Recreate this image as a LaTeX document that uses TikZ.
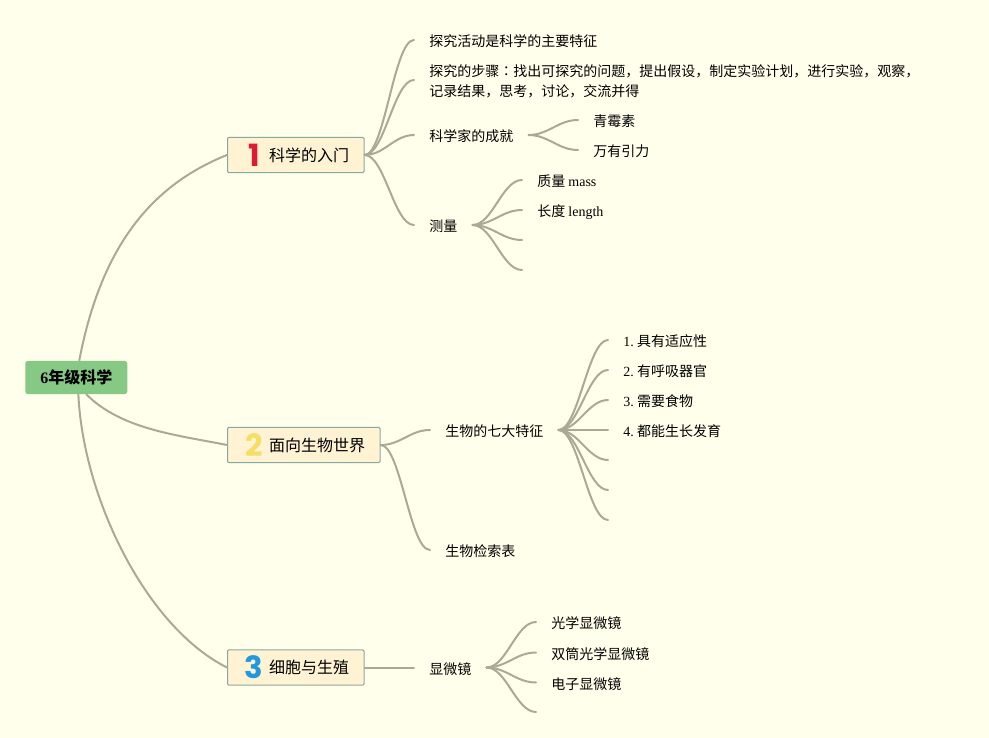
\documentclass[tikz,border=0pt]{standalone}
\usepackage{fontspec}
\setmainfont{Liberation Serif}
\newfontfamily\cjk{Noto Sans CJK SC}
\newfontfamily\cjktc{Noto Sans CJK TC}
\newfontfamily\numfont{Poppins}
\newcommand{\lat}[1]{{\rmfamily #1}}
\definecolor{bgpaper}{HTML}{FFFFEC}
\definecolor{rootgreen}{HTML}{85C985}
\definecolor{topicfill}{HTML}{FFF3D4}
\definecolor{topicline}{HTML}{86AB9C}
\definecolor{branchline}{HTML}{AAAA94}
\definecolor{numred}{HTML}{DC1C32}
\definecolor{numyellow}{HTML}{F5DE64}
\definecolor{numblue}{HTML}{2299DD}
\tikzset{
	rootnode/.style={anchor=west,fill=rootgreen,rounded corners=2pt,minimum width=76.5pt,minimum height=25pt,inner sep=0pt,text height=11pt,text depth=1.5pt,font=\cjk\bfseries\fontsize{12}{14}\selectfont},
	topicnode/.style={anchor=west,draw=topicline,line width=0.8pt,fill=topicfill,rounded corners=1pt,minimum height=26.5pt,inner xsep=11.25pt,inner ysep=0pt,font=\cjk\fontsize{12}{14}\selectfont},
	numnode/.style={inner sep=0pt,font=\numfont\bfseries\fontsize{23}{23}\selectfont},
	leafnode/.style={anchor=west,inner xsep=11.25pt,inner ysep=0pt,align=left,text height=11pt,text depth=1.5pt,font=\cjk\fontsize{10.5}{15}\selectfont},
	branch/.style={draw=branchline,line width=1.5pt,line cap=round},
}
\begin{document}
\begin{tikzpicture}[x=0.75pt,y=0.75pt,yscale=-1,xscale=1]
	\useasboundingbox [fill=bgpaper] (0,0) rectangle (989,738);
	
	% root and main topics
	\node [rootnode] (root) at (25,377.5) {\lat{6}年级科学};
	\node [topicnode] (topicA) at (227,155) {\hspace*{19.9pt}科学的入门};
	\node [topicnode] (topicB) at (227,445) {\hspace*{19.9pt}面向生物世界};
	\node [topicnode] (topicC) at (227,667.5) {\hspace*{19.9pt}细胞与生殖};
	\node [numnode,text=numred] (numA) at ([xshift=20.4pt]topicA.west) {1};
	\node [numnode,text=numyellow] (numB) at ([xshift=20.4pt]topicB.west) {2};
	\node [numnode,text=numblue] (numC) at ([xshift=20.4pt]topicC.west) {3};
	
	% first topic
	\node [leafnode] (inquiry) at (414,40) {探究活动是科学的主要特征};
	\node [leafnode,text height=25.9pt] (steps) at (414,80) {探究的步骤{\cjktc ：}找出可探究的问题，提出假设，制定实验计划，进行实验，观察，\\记录结果，思考，讨论，交流并得};
	\node [leafnode] (feats) at (414,135) {科学家的成就};
	\node [leafnode] (measure) at (414,225) {测量};
	\node [leafnode] (penicillin) at (578,120) {青霉素};
	\node [leafnode] (gravity) at (578,150) {万有引力};
	\node [leafnode] (mass) at (522,180) {质量 \lat{mass}};
	\node [leafnode] (length) at (522,210) {长度 \lat{length}};
	\coordinate (blankA) at (522,240);
	\coordinate (blankB) at (522,270);
	
	% second topic
	\node [leafnode] (seven) at (430,430) {生物的七大特征};
	\node [leafnode] (keytable) at (430,550) {生物检索表};
	\node [leafnode] (lifeA) at (608,340) {\lat{1. }\hspace{-1pt}具有适应性};
	\node [leafnode] (lifeB) at (608,370) {\lat{2. }\hspace{-1pt}有呼吸器官};
	\node [leafnode] (lifeC) at (608,400) {\lat{3. }\hspace{-1pt}需要食物};
	\node [leafnode] (lifeD) at (608,430) {\lat{4. }\hspace{-1pt}都能生长发育};
	\coordinate (lifeE) at (608,460);
	\coordinate (lifeF) at (608,490);
	\coordinate (lifeG) at (608,520);
	
	% third topic
	\node [leafnode,text height=12.5pt] (scope) at (414,667.5) {显微镜};
	\node [leafnode] (scopeA) at (536,622) {光学显微镜};
	\node [leafnode,text height=12pt] (scopeB) at (536,652.5) {双筒光学显微镜};
	\node [leafnode,text height=12pt] (scopeC) at (536,682.5) {电子显微镜};
	\coordinate (scopeD) at (536,712);
	
	% connectors
	\draw [branch] (root.80) .. controls +(22,-115) and +(-75,30) .. (topicA.west);
	\draw [branch] (root.-59) .. controls +(35,35) and +(-50,-10) .. (topicB.west);
	\draw [branch] (root.-83) .. controls +(5,105) and +(-80,-40) .. (topicC.west);
	
	\draw [branch] (topicA.east) .. controls +(20,0) and +(-20,0) .. (inquiry.west);
	\draw [branch] (topicA.east) .. controls +(20,0) and +(-20,0) .. (steps.west);
	\draw [branch] (topicA.east) .. controls +(20,0) and +(-20,0) .. (feats.west);
	\draw [branch] (topicA.east) .. controls +(20,0) and +(-20,0) .. (measure.west);
	\draw [branch] (feats.east) .. controls +(20,0) and +(-20,0) .. (penicillin.west);
	\draw [branch] (feats.east) .. controls +(20,0) and +(-20,0) .. (gravity.west);
	\draw [branch] (measure.east) .. controls +(20,0) and +(-20,0) .. (mass.west);
	\draw [branch] (measure.east) .. controls +(20,0) and +(-20,0) .. (length.west);
	\draw [branch] (measure.east) .. controls +(20,0) and +(-20,0) .. (blankA);
	\draw [branch] (measure.east) .. controls +(20,0) and +(-20,0) .. (blankB);
	
	\draw [branch] (topicB.east) .. controls +(20,0) and +(-20,0) .. (seven.west);
	\draw [branch] (topicB.east) .. controls +(20,0) and +(-20,0) .. (keytable.west);
	\draw [branch] (seven.east) .. controls +(20,0) and +(-20,0) .. (lifeA.west);
	\draw [branch] (seven.east) .. controls +(20,0) and +(-20,0) .. (lifeB.west);
	\draw [branch] (seven.east) .. controls +(20,0) and +(-20,0) .. (lifeC.west);
	\draw [branch] (seven.east) -- (lifeD.west);
	\draw [branch] (seven.east) .. controls +(20,0) and +(-20,0) .. (lifeE);
	\draw [branch] (seven.east) .. controls +(20,0) and +(-20,0) .. (lifeF);
	\draw [branch] (seven.east) .. controls +(20,0) and +(-20,0) .. (lifeG);
	
	\draw [branch] (topicC.east) -- (scope.west);
	\draw [branch] (scope.east) .. controls +(20,0) and +(-20,0) .. (scopeA.west);
	\draw [branch] (scope.east) .. controls +(20,0) and +(-20,0) .. (scopeB.west);
	\draw [branch] (scope.east) .. controls +(20,0) and +(-20,0) .. (scopeC.west);
	\draw [branch] (scope.east) .. controls +(20,0) and +(-20,0) .. (scopeD);
\end{tikzpicture}
\end{document}
